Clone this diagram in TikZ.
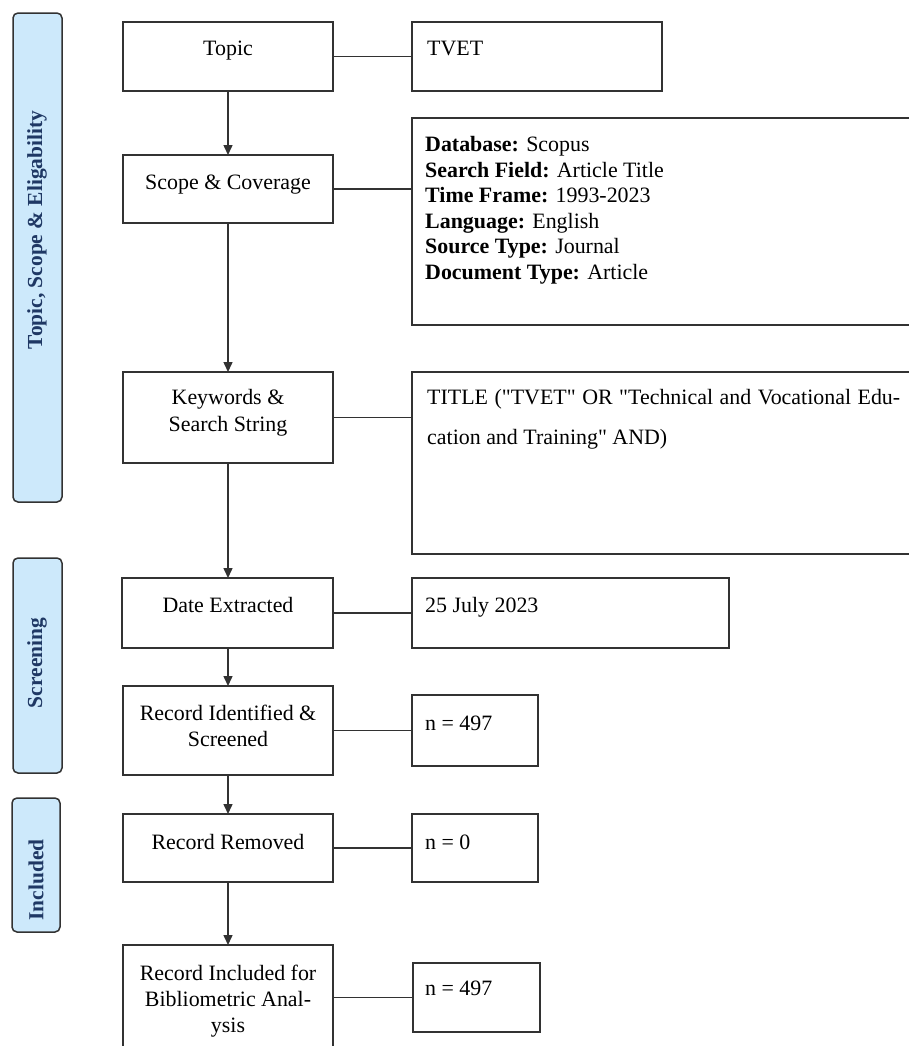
\documentclass[tikz,border=0pt]{standalone}
\usepackage{fontspec}
\setmainfont{Liberation Serif}
\newfontfamily\qfont{Liberation Serif}
\usetikzlibrary{arrows.meta}
\definecolor{barfill}{RGB}{205,233,251}
\definecolor{bartext}{RGB}{31,56,100}
\definecolor{linecol}{RGB}{50,50,50}
\newcommand{\sq}{{\qfont\symbol{34}}}
\begin{document}
\begin{tikzpicture}[x=1bp,y=-1bp,
  box/.style={draw=linecol, line width=1.5bp, anchor=north west, inner sep=0, outer sep=0},
  bar/.style={draw=linecol, fill=barfill, line width=1.5bp, rounded corners=5bp, anchor=north west, inner sep=0, outer sep=0},
  bartxt/.style={rotate=90, text=bartext, inner sep=0, font=\fontsize{21.5}{24}\selectfont\bfseries},
  txt/.style={anchor=north, inner sep=0, align=center, font=\fontsize{22}{26}\selectfont},
  rtxt/.style={anchor=north west, inner sep=0, align=left, font=\fontsize{22}{26}\selectfont},
  link/.style={draw=linecol, line width=1.5bp},
  arr/.style={link, -{Triangle[length=10bp,width=9bp]}},
]
\useasboundingbox[fill=white] (0,0) rectangle (909,1046);

% side bars
\node[bar, minimum width=49bp, minimum height=489bp] (bar1) at (13,13) {};
\node[bar, minimum width=49bp, minimum height=215bp] (bar2) at (13,558) {};
\node[bar, minimum width=48bp, minimum height=134bp] (bar3) at (12,798) {};
\node[bartxt] (bar1t) at (37,230) {Topic, Scope \& Eligability};
\node[bartxt] (bar2t) at (37,663) {Screening};
\node[bartxt] (bar3t) at (36,880) {Included};

% left column boxes
\node[box, minimum width=210bp, minimum height=69bp] (topic) at (123,22) {};
\node[box, minimum width=210bp, minimum height=68bp] (scope) at (123,155) {};
\node[box, minimum width=210bp, minimum height=91bp] (kw) at (123,372) {};
\node[box, minimum width=211bp, minimum height=70bp] (date) at (122,578) {};
\node[box, minimum width=210bp, minimum height=89bp] (ident) at (123,686) {};
\node[box, minimum width=210bp, minimum height=68bp] (removed) at (123,814) {};
\node[box, minimum width=210bp, minimum height=110bp] (incl) at (123,945) {};

% right column boxes
\node[box, minimum width=250bp, minimum height=69bp] (tvet) at (412,22) {};
\node[box, minimum width=520bp, minimum height=207bp] (scoped) at (412,118) {};
\node[box, minimum width=520bp, minimum height=182bp] (kwd) at (412,372) {};
\node[box, minimum width=317bp, minimum height=70bp] (dated) at (412,578) {};
\node[box, minimum width=126bp, minimum height=71bp] (n1) at (412,695) {};
\node[box, minimum width=126bp, minimum height=68bp] (n2) at (412,814) {};
\node[box, minimum width=127bp, minimum height=69bp] (n3) at (413,963) {};

% left texts
\node[txt] (topict) at (228,37) {\strut Topic};
\node[txt] (scopet) at (228,171) {\strut Scope \& Coverage};
\node[txt] (kwt) at (228,386) {\strut Keywords \&\\[1.5bp]\strut Search String};
\node[txt] (datet) at (228,594) {\strut Date Extracted};
\node[txt] (identt) at (228,702) {\strut Record Identified \&\\\strut Screened};
\node[txt] (removedt) at (228,831) {\strut Record Removed};
\node[txt] (inclt) at (228,962) {\strut Record Included for\\\strut Bibliometric Anal-\\\strut ysis};

% right texts
\node[rtxt] (tvett) at (427,37) {\strut TVET};
\node[rtxt, font=\fontsize{22}{25.5}\selectfont] (scopedt) at (425,134) {\strut\textbf{Database:} Scopus\\
\strut\textbf{Search Field:} Article Title\\
\strut\textbf{Time Frame:} 1993-2023\\
\strut\textbf{Language:} English\\
\strut\textbf{Source Type:} Journal\\
\strut\textbf{Document Type:} Article};
\node[rtxt] (kwdt) at (427,386) {\makebox[473bp][s]{\strut TITLE (\sq TVET\sq{} OR \sq Technical and Vocational Edu-}\\[14bp]\strut cation and Training\sq{} AND)};
\node[rtxt] (datedt) at (425,594) {\strut 25 July 2023};
\node[rtxt] (n1t) at (425,712) {\strut n = 497};
\node[rtxt] (n2t) at (425,831) {\strut n = 0};
\node[rtxt] (n3t) at (425,977) {\strut n = 497};

% horizontal links
\draw[link] (topic.east) -- (tvet.west);
\draw[link] (scope.east) -- (scope.east -| scoped.west);
\draw[link] (kw.east) -- (kw.east -| kwd.west);
\draw[link] (date.east) -- (date.east -| dated.west);
\draw[link] (ident.east) -- (ident.east -| n1.west);
\draw[link] (removed.east) -- (removed.east -| n2.west);
\draw[link] (n3.west -| incl.east) -- (n3.west);

% arrows
\draw[arr] (topic.south) -- (scope.north);
\draw[arr] (scope.south) -- (kw.north);
\draw[arr] (kw.south) -- (kw.south |- date.north);
\draw[arr] (kw.south |- date.south) -- (kw.south |- ident.north);
\draw[arr] (ident.south) -- (removed.north);
\draw[arr] (removed.south) -- (incl.north);
\end{tikzpicture}
\end{document}
